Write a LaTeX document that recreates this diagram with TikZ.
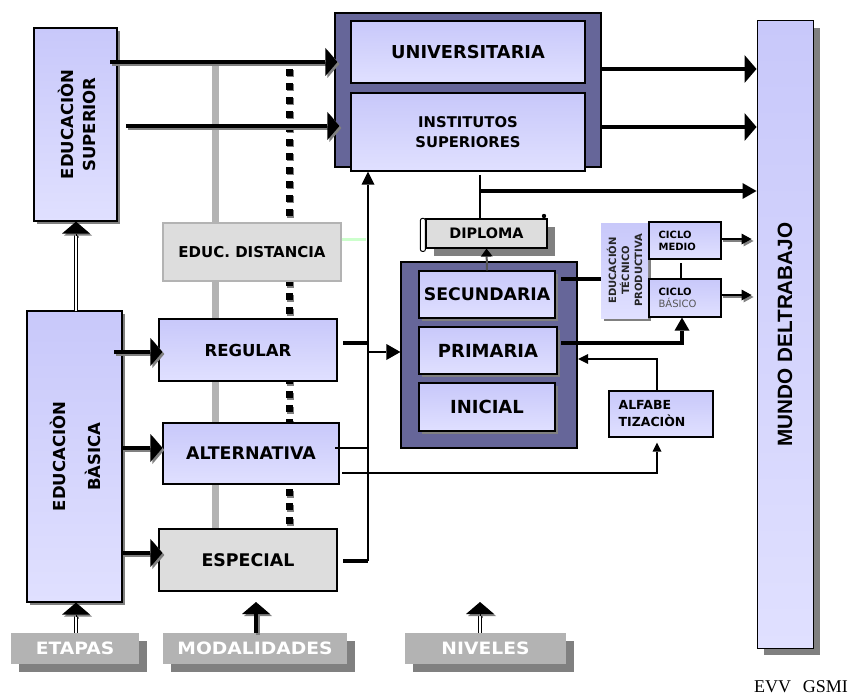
\documentclass[tikz,border=0pt]{standalone}
\usepackage{fontspec}
\setmainfont{DejaVu Sans}
\newfontfamily\arialf{Liberation Sans}
\newfontfamily\timesf{Liberation Serif}
\usetikzlibrary{arrows.meta,shadows,calc}
\definecolor{lavtop}{HTML}{C8C8FA}
\definecolor{lavbot}{HTML}{E0E0FF}
\definecolor{darkbl}{HTML}{666699}
\definecolor{lgray}{HTML}{DDDDDD}
\definecolor{mgray}{HTML}{B3B3B3}
\definecolor{shgray}{HTML}{808080}
\definecolor{lgreen}{HTML}{CCFFCC}
\definecolor{txtgray}{HTML}{555555}
\newcommand{\fsz}[2]{\fontsize{#1}{#2}\selectfont}
\newcommand{\shdraw}[2]{\draw[#1, draw=shgray, fill=shgray, transform canvas={shift={(2pt,-2pt)}}] #2; \draw[#1] #2;}
\tikzset{
  lav/.style={draw=black, line width=1.2pt, top color=lavtop, bottom color=lavbot, inner sep=0pt},
  grp/.style={draw=black, line width=1.2pt, fill=darkbl, inner sep=0pt},
  shd/.style={drop shadow={shadow xshift=#1, shadow yshift=-#1, fill=shgray, opacity=1}},
  lbl/.style={fill=mgray, inner sep=0pt, text=white, shd=8pt, minimum height=31pt,
              font=\bfseries\fsz{17}{20}},
  bigtip/.style={-{Triangle[length=12pt,width=28pt,line width=0pt]}},
  midtip/.style={-{Triangle[length=14pt,width=16pt,line width=0pt]}},
  smalltip/.style={-{Triangle[length=10pt,width=11pt,line width=0pt]}},
  thick4/.style={line width=4pt},
  dbl/.style={double=white, double distance=2pt, line width=1pt, draw=black},
}
\begin{document}
\begin{tikzpicture}[x=1pt, y=-1pt]
\useasboundingbox (0,0) rectangle (852,698);

% background guide lines
\coordinate (gtop) at (215,65);
\coordinate (gbot) at (215,529);
\draw[mgray, line width=7pt] (gtop) -- (gbot);
\coordinate (dtop) at (289,69);
\coordinate (dbot) at (289,537);
\draw[shgray, line width=7pt, dash pattern=on 7pt off 7pt, transform canvas={shift={(1.5pt,-1.5pt)}}] (dtop) -- (dbot);
\draw[black, line width=7pt, dash pattern=on 7pt off 7pt] (dtop) -- (dbot);

% ---- Educacion superior
\node[lav, shd=3pt, minimum width=83pt, minimum height=193pt] (es) at (75.5,124.5) {};
\node[rotate=90, align=center, inner sep=0pt, font=\bfseries\fsz{16.5}{22}] (estext) at (77,124.5) {EDUCACIÒN\\SUPERIOR};

% ---- Educacion basica
\node[lav, shd=3pt, minimum width=95pt, minimum height=291pt] (eb) at (74.5,456.5) {};
\node[rotate=90, align=center, inner sep=0pt, font=\bfseries\fsz{16.5}{35}] (ebtext) at (75.5,456.5) {EDUCACIÒN\\BÀSICA};

% ---- Universitaria group
\node[grp, minimum width=266pt, minimum height=154pt] (ugrp) at (468,90) {};
\node[lav, minimum width=234pt, minimum height=62pt, font=\bfseries\fsz{17.8}{20}] (univ) at (468,52) {UNIVERSITARIA};
\node[lav, minimum width=234pt, minimum height=78pt, align=center, font=\bfseries\fsz{14.8}{20}] (inst) at (468,132) {INSTITUTOS\\SUPERIORES};

% ---- Mundo del trabajo
\node[lav, line width=1pt, shd=7pt, minimum width=56pt, minimum height=627pt] (mundo) at (785,334.5) {};
\node[rotate=90, inner sep=0pt, font=\arialf\bfseries\fsz{20.7}{24}] (mundotext) at (mundo.center) {MUNDO DELTRABAJO};

% ---- Modalidades
\node[draw=mgray, line width=1.5pt, fill=lgray, minimum width=178pt, minimum height=58pt, inner sep=0pt, font=\bfseries\fsz{15}{18}] (dist) at (252,252) {EDUC. DISTANCIA};
\node[lav, minimum width=178pt, minimum height=62pt, font=\bfseries\fsz{16.5}{20}] (reg) at (248,350) {REGULAR};
\node[lav, minimum width=176pt, minimum height=61pt, font=\bfseries\fsz{17.4}{20}] (alt) at (251,453.5) {ALTERNATIVA};
\node[draw=black, line width=1.2pt, fill=lgray, inner sep=0pt, minimum width=178pt, minimum height=62pt, font=\bfseries\fsz{17.4}{20}] (esp) at (248,560) {ESPECIAL};

% ---- Niveles group
\node[grp, minimum width=176pt, minimum height=186pt] (ngrp) at (489,355) {};
\node[lav, shd=3pt, minimum width=136pt, minimum height=47pt, font=\bfseries\fsz{17.3}{20}] (sec) at (487,294.5) {SECUNDARIA};
\node[lav, shd=3pt, minimum width=138pt, minimum height=47pt, font=\bfseries\fsz{18}{20}] (pri) at (488,350.5) {PRIMARIA};
\node[lav, shd=3pt, minimum width=136pt, minimum height=48pt, font=\bfseries\fsz{18}{20}] (ini) at (487,407) {INICIAL};

% ---- Diploma
\node[draw=black, line width=1.2pt, fill=lgray, inner sep=0pt, shd=8pt, minimum width=121pt, minimum height=29pt, font=\bfseries\fsz{14.4}{18}] (dipl) at (486.5,233.5) {DIPLOMA};
\draw[fill=white, line width=1pt, rounded corners=2pt] (dipl.north west) ++(-5,0) rectangle ++(5,33);
\fill (544,216) circle (2.2pt);

% ---- Educacion tecnico productiva
\node[top color=lavtop, bottom color=lavbot, inner sep=0pt, shd=3pt, minimum width=47pt, minimum height=95pt] (etp) at (624.5,270.5) {};
\node[rotate=90, align=center, inner sep=0pt, font=\bfseries\fsz{10}{13}, text=black!85] (etptext) at (etp.center) {EDUCACIÓN\\TÉCNICO\\PRODUCTIVA};
\node[lav, minimum width=72pt, minimum height=37pt] (cm) at (685,240.5) {};
\node[anchor=west, align=left, inner sep=0pt, font=\bfseries\fsz{10}{12}] (cmtext) at ([xshift=10pt]cm.west) {CICLO\\MEDIO};
\node[lav, minimum width=72pt, minimum height=38pt] (cb) at (685,298) {};
\node[anchor=west, align=left, inner sep=0pt, font=\bfseries\fsz{10}{12}] (cbtext) at ([xshift=10pt]cb.west) {CICLO\\{\mdseries\color{txtgray}BÁSICO}};

% ---- Alfabetizacion
\node[lav, minimum width=104pt, minimum height=46pt] (alf) at (661,414) {};
\node[anchor=west, align=left, inner sep=0pt, font=\bfseries\fsz{12.5}{17}] (alftext) at ([xshift=10pt]alf.west) {ALFABE\\TIZACIÒN};

% ---- bottom labels
\node[lbl, minimum width=128pt] (etapas) at (75,648.5) {\scalebox{1.1}[1]{ETAPAS}};
\node[lbl, minimum width=184pt] (modal) at (255,648.5) {\scalebox{1.1}[1]{MODALIDADES}};
\node[lbl, minimum width=161pt] (niv) at (485.5,648.5) {\scalebox{1.1}[1]{NIVELES}};
\node[inner sep=0pt, font=\timesf\fsz{18}{20}] (evv) at (801,687) {EVV\hspace{12pt}GSMI};

% ================= connectors
% Educ. superior -> university group
\coordinate (esa) at (110,62);
\coordinate (esb) at (126,126);
\shdraw{thick4, bigtip}{(esa) -- ([xshift=3pt]ugrp.west |- esa)}
\shdraw{thick4, bigtip}{(esb) -- ([xshift=5pt]ugrp.west |- esb)}

% university group -> mundo
\coordinate (ua) at (601,69);
\coordinate (ub) at (601,127);
\draw[thick4, bigtip] (ua) -- (mundo.west |- ua);
\draw[thick4, bigtip] (ub) -- (mundo.west |- ub);
\coordinate (dtopc) at (480,175);
\coordinate (dmid) at (480,191);
\draw[line width=2pt] (dtopc) -- (dtopc |- dipl.north);
\draw[line width=3.5pt, midtip] (dmid) -- (mundo.west |- dmid);

% diploma
\draw[line width=2pt, draw=txtgray, -{Triangle[length=8pt,width=12pt,line width=0pt,fill=black]}] (sec.north) -- (dipl.south);

% ETP links
\coordinate (s1) at (561,279);
\draw[line width=3.5pt] (s1) -- (s1 -| etp.west);
\coordinate (p1) at (561,343);
\coordinate (p2) at (682,343);
\draw[line width=3.5pt, -{Triangle[length=13pt,width=15pt,line width=0pt]}] (p1) -- (p2) -- (p2 |- cb.south);
\coordinate (cml) at (681,263);
\draw[line width=2pt] (cml) -- (cml |- cb.north);
\coordinate (cma) at (721,239);
\coordinate (cba) at (721,295);
\shdraw{line width=2.5pt, smalltip}{(cma) -- ([xshift=-5pt]mundo.west |- cma)}
\shdraw{line width=2.5pt, smalltip}{(cba) -- ([xshift=-5pt]mundo.west |- cba)}

% alfabetizacion
\coordinate (af1) at (657,359);
\coordinate (af2) at (578,359);
\draw[line width=1.5pt, -{Triangle[length=10pt,width=10pt,line width=0pt]}] (af1 |- alf.north) -- (af1) -- (af2);
\coordinate (al1) at (342,473);
\coordinate (al2) at (657,473);
\draw[line width=1.3pt, -{Triangle[length=9pt,width=9pt,line width=0pt]}] (al1) -- (al2) -- ([yshift=-5pt]al2 |- alf.south);

% modalidades -> niveles
\coordinate (vb) at (368,561);
\coordinate (r1) at (343,343);
\coordinate (a1) at (335,448);
\coordinate (e1) at (343,561);
\draw[line width=3.3pt] (r1) -- (r1 -| vb);
\draw[line width=1.5pt] (a1) -- (a1 -| vb);
\draw[line width=3.3pt] (e1) -- (vb);
\draw[line width=1.8pt, -{Triangle[length=13pt,width=13pt,line width=0pt]}] (vb) -- (vb |- inst.south);
\coordinate (vn) at (368,352);
\draw[line width=1.8pt, midtip] (vn) -- (vn -| ngrp.west);
\coordinate (gl) at (366,239);
\draw[lgreen, line width=3pt] (dist.east |- gl) -- (gl);

% Educ basica -> modalidades
\coordinate (eba) at (114,352);
\coordinate (ebb) at (122,448);
\coordinate (ebc) at (122,553);
\shdraw{thick4, bigtip}{(eba) -- ([xshift=4pt]reg.west |- eba)}
\shdraw{thick4, bigtip}{(ebb) -- (alt.west |- ebb)}
\shdraw{thick4, bigtip}{(ebc) -- ([xshift=4pt]esp.west |- ebc)}

% double arrows
\coordinate (ebtop) at (76,311);
\draw[dbl] (ebtop) -- ([yshift=-10pt]ebtop |- es.south);
\shdraw{line width=1pt, bigtip}{([yshift=-14pt]ebtop |- es.south) -- (ebtop |- es.south)}
\coordinate (ett) at (76,633);
\draw[dbl] (ett) -- ([yshift=-10pt]ett |- eb.south);
\shdraw{line width=1pt, bigtip}{([yshift=-14pt]ett |- eb.south) -- (ett |- eb.south)}
\coordinate (mt) at (256,633);
\coordinate (mtip) at (256,602);
\shdraw{thick4, bigtip}{(mt) -- (mtip)}
\coordinate (nt) at (480,633);
\coordinate (ntip) at (480,602);
\draw[dbl] (nt) -- ([yshift=-10pt]ntip);
\shdraw{line width=1pt, bigtip}{([yshift=-14pt]ntip) -- (ntip)}
\end{tikzpicture}
\end{document}
